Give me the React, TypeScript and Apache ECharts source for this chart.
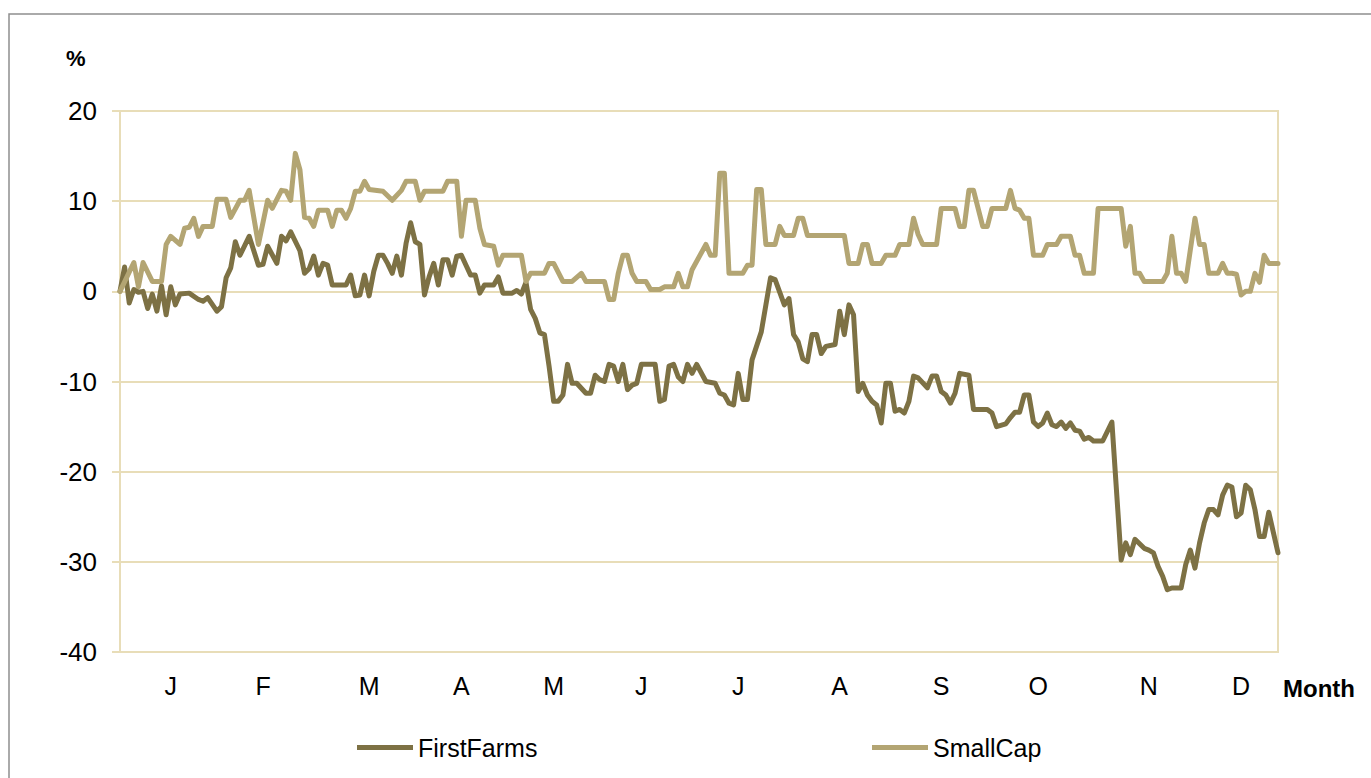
import React, { useEffect, useRef } from "react";
import * as echarts from "echarts";

// ---- data ----
const seriesNames = ["FirstFarms", "SmallCap"];
const dayCount = 252; // trading days, index 0..251
const monthLetters = ["J", "F", "M", "A", "M", "J", "J", "A", "S", "O", "N", "D"];
const monthLabelDays = [11, 31, 54, 74, 94, 113, 134, 156, 178, 199, 223, 243];
const yTicks = { min: -40, max: 20, step: 10 };

const firstFarmsDays = [
  0, 1, 2, 3, 4, 5, 6, 7, 8, 9, 10, 11, 12, 13, 15, 17, 18, 19, 21, 22, 23, 24, 25, 26, 28, 30, 31, 32, 34, 35, 36, 37, 39, 40,
  41, 42, 43, 44, 45, 46, 49, 50, 51, 52, 53, 54, 55, 56, 57, 58, 59, 60, 61, 62, 63, 64, 65, 66, 67, 68, 69, 70, 71, 72, 73,
  74, 75, 76, 77, 78, 79, 81, 82, 83, 85, 86, 87, 88, 89, 90, 91, 92, 93, 94, 95, 96, 97, 98, 99, 101, 102, 103, 104, 105,
  106, 107, 108, 109, 110, 111, 112, 113, 116, 117, 118, 119, 120, 121, 122, 123, 124, 125, 127, 129, 130, 131, 132, 133,
  134, 135, 136, 137, 139, 140, 141, 142, 144, 145, 146, 147, 148, 149, 150, 151, 152, 153, 155, 156, 157, 158, 159, 160,
  161, 162, 163, 164, 165, 166, 167, 168, 169, 170, 171, 172, 173, 175, 176, 177, 178, 179, 180, 181, 182, 184, 185, 188,
  189, 190, 192, 193, 194, 195, 196, 197, 198, 199, 200, 201, 202, 203, 204, 205, 206, 207, 208, 209, 210, 211, 213, 215,
  217, 218, 219, 220, 222, 223, 224, 225, 226, 227, 228, 230, 231, 232, 233, 234, 235, 236, 237, 238, 239, 240, 241, 242,
  243, 244, 245, 246, 247, 248, 249, 251,
];
const firstFarmsValues = [
  0, 2.7, -1.3, 0.2, -0.1, 0, -1.9, -0.3, -2.2, 0.6, -2.6, 0.5, -1.5, -0.3, -0.2, -0.9, -1.1, -0.7, -2.2, -1.7, 1.5, 2.6, 5.5,
  4.0, 6.1, 2.9, 3.0, 5.0, 3.1, 6.1, 5.6, 6.6, 4.5, 2.0,
  2.5, 3.9, 1.8, 3.1, 2.9, 0.7, 0.7, 1.8, -0.5, -0.4, 1.8, -0.5, 2.2, 4.0, 4.0, 3.1, 2.0, 3.9, 1.8, 5.3, 7.6, 5.5, 5.2, -0.4,
  1.6, 3.1, 0.7, 3.5, 3.5, 1.8, 3.9,
  4.0, 2.9, 1.8, 1.8, -0.2, 0.7, 0.7, 1.6, -0.2, -0.2, 0.1, -0.3, 1.0, -2.0, -3.0, -4.6, -4.8, -8.3, -12.2, -12.2, -11.5,
  -8.1, -10.2, -10.2, -11.3, -11.3, -9.3, -9.8, -10.0,
  -8.1, -8.3, -10.0, -8.1, -10.9, -10.4, -10.2, -8.1, -8.1, -12.2, -12.0, -8.3, -8.1, -9.5, -10.0, -8.1, -9.1, -8.1, -10.0,
  -10.2, -11.3, -11.5, -12.4, -12.6,
  -9.1, -12.0, -12.0, -7.6, -4.5, -1.5, 1.5, 1.3, -1.5, -0.8, -4.8, -5.6, -7.5, -7.8, -4.8, -4.8, -6.9, -6.1, -5.9, -2.2,
  -4.8, -1.5, -2.6, -11.1,
  -10.2, -11.5, -12.2, -12.6, -14.6, -10.2, -10.2, -13.3, -13.1, -13.5, -12.2, -9.4, -9.6, -10.7, -9.4, -9.4, -11.1, -11.5,
  -12.4, -11.3, -9.1, -9.3, -13.1, -13.1,
  -13.5, -15.0, -14.7, -14.0, -13.4, -13.4, -11.5, -11.5, -14.5, -15.0, -14.6, -13.5, -14.8, -15.0, -14.5, -15.2, -14.6,
  -15.4, -15.5, -16.4, -16.2, -16.6, -16.6, -14.5,
  -29.8, -27.9, -29.2, -27.5, -28.5, -28.7, -29.0, -30.5, -31.6, -33.1, -32.9, -32.9, -30.3, -28.7, -30.7, -27.9, -25.7,
  -24.2, -24.2, -24.8, -22.6, -21.5, -21.7, -25.0,
  -24.6, -21.5, -22.0, -24.2, -27.2, -27.2, -24.5, -29.0,
];

const smallCapDays = [
  0, 3, 4, 5, 7, 9, 10, 11, 13, 14, 15, 16, 17, 18, 20, 21, 23, 24, 26, 27, 28, 30, 32, 33, 35, 36, 37, 38, 39, 40, 41, 42,
  43, 45, 46, 47, 48, 49, 50, 51, 52, 53, 54, 57, 59, 61, 62, 64, 65, 66, 70, 71, 73, 74, 75, 77, 78, 79, 81, 82, 83, 87,
  88, 89, 92, 93, 94, 96, 98, 100, 101, 105, 106, 107, 108, 109, 110, 111, 112, 114, 115, 117, 118, 120, 121, 122, 123,
  124, 127, 128, 129, 130, 131, 132, 135, 136, 137, 138, 139, 140, 142, 143, 144, 146, 147, 148, 149, 157, 158, 160, 161,
  162, 163, 165, 166, 168, 169, 171, 172, 173, 174, 177, 178, 181, 182, 183, 184, 185, 187, 188, 189, 192, 193, 194, 195,
  196, 197, 198, 200, 201, 203, 204, 206, 207, 208, 209, 211, 212, 217, 218, 219, 220, 221, 222, 226, 227, 228, 229, 230,
  231, 233, 234, 235, 236, 238, 239, 240, 241, 242, 243, 244, 245, 246, 247, 248, 249, 251,
];
const smallCapValues = [
  0, 3.2, 0.5, 3.2, 1.1, 1.1, 5.2, 6.1, 5.2, 7.0, 7.1, 8.1, 6.1, 7.2, 7.2, 10.2, 10.2, 8.2, 10.1, 10.1, 11.2, 5.2, 10.1, 9.2,
  11.2, 11.1, 10.1, 15.3, 13.5, 8.2, 8.1, 7.2,
  9.0, 9.0, 7.2, 9.0, 9.0, 8.1, 9.2, 11.1, 11.1, 12.2, 11.3, 11.1, 10.1, 11.2, 12.2, 12.2, 10.1, 11.1, 11.1, 12.2, 12.2, 6.1,
  10.1, 10.1, 7.0, 5.2, 5.0, 2.9, 4.0, 4.0,
  1.1, 2.0, 2.0, 3.1, 3.1, 1.1, 1.1, 2.0, 1.1, 1.1, -0.9, -0.9, 2.0, 4.0, 4.0, 2.0, 1.1, 1.1, 0.2, 0.2, 0.5, 0.5, 2.0, 0.5,
  0.5,
  2.4, 5.2, 4.0, 4.0, 13.1, 13.1, 2.0, 2.0, 2.9, 2.9, 11.3, 11.3, 5.2, 5.2, 7.2, 6.2, 6.2, 8.1, 8.1, 6.2, 6.2, 3.1, 3.1, 5.2,
  5.2, 3.1, 3.1, 4.0, 4.0, 5.2, 5.2, 8.1, 6.3, 5.2, 5.2, 9.2, 9.2, 7.2, 7.2, 11.2, 11.2, 7.2, 7.2, 9.2, 9.2, 11.2, 9.2, 9.0,
  8.1, 8.1, 4.0, 4.0, 5.2, 5.2, 6.1, 6.1, 4.0, 4.0, 2.0, 2.0, 9.2, 9.2, 5.0, 7.2, 2.0, 2.0, 1.1, 1.1, 2.0, 6.1, 2.0, 2.0,
  1.1, 8.1, 5.2, 5.2, 2.0, 2.0, 3.1, 2.0, 2.0, 1.9, -0.4, 0.0, 0.0, 2.0, 1.0, 4.0, 3.1, 3.1,
];

// ---- styles ----
const COLOR_FF = "#7d7144";
const COLOR_SC = "#b3a573";
const GRID_COLOR = "#e8ddb8";
const FONT = "'Liberation Sans', Arial, sans-serif";

const xCategories: string[] = Array.from({ length: dayCount }, (_, i) => {
  const k = monthLabelDays.indexOf(i);
  return k >= 0 ? monthLetters[k] : "";
});

const zip = (days: number[], vals: number[]) => days.map((d, i) => [d, vals[i]]);

export default function App() {
  const ref = useRef<HTMLDivElement>(null);
  useEffect(() => {
    if (!ref.current) return;
    const chart = echarts.init(ref.current, undefined, { renderer: "svg" });
    const legendText = { color: "#000", fontSize: 25, fontFamily: FONT };
    chart.setOption({
      animation: false,
      backgroundColor: "#ffffff",
      textStyle: { fontFamily: FONT },
      grid: {
        left: 120,
        right: 93,
        top: 111,
        bottom: 126,
        show: true,
        borderColor: GRID_COLOR,
        borderWidth: 2,
      },
      xAxis: {
        type: "category",
        boundaryGap: false,
        data: xCategories,
        axisLine: { show: true, lineStyle: { color: GRID_COLOR, width: 2 } },
        axisTick: { show: false },
        splitLine: { show: false },
        axisLabel: {
          interval: (_i: number, v: string) => v !== "",
          color: "#000",
          fontSize: 25,
          fontFamily: FONT,
          margin: 21,
        },
      },
      yAxis: {
        type: "value",
        min: yTicks.min,
        max: yTicks.max,
        interval: yTicks.step,
        axisLine: { show: true, lineStyle: { color: GRID_COLOR, width: 2 } },
        axisTick: { show: true, length: 8, lineStyle: { color: GRID_COLOR, width: 2 } },
        splitLine: { show: true, lineStyle: { color: GRID_COLOR, width: 2 } },
        axisLabel: { color: "#000", fontSize: 26, fontFamily: FONT, margin: 23 },
      },
      legend: [
        {
          data: [seriesNames[0]],
          left: 357,
          top: 735,
          padding: 0,
          icon: "rect",
          itemWidth: 56,
          itemHeight: 5,
          textStyle: legendText,
        },
        {
          data: [seriesNames[1]],
          left: 872,
          top: 735,
          padding: 0,
          icon: "rect",
          itemWidth: 56,
          itemHeight: 5,
          textStyle: legendText,
        },
      ],
      graphic: [
        {
          type: "rect",
          shape: { x: 9, y: 14, width: 1420, height: 820 },
          style: { fill: "none", stroke: "#8e8e8e", lineWidth: 1.5 },
          silent: true,
        },
        {
          type: "text",
          left: 66,
          top: 47,
          style: { text: "%", fill: "#000", font: `bold 22px ${FONT}` },
        },
        {
          type: "text",
          left: 1283,
          top: 676,
          style: { text: "Month", fill: "#000", font: `bold 24px ${FONT}` },
        },
      ],
      series: [
        {
          name: seriesNames[0],
          type: "line",
          data: zip(firstFarmsDays, firstFarmsValues),
          showSymbol: false,
          symbol: "none",
          color: COLOR_FF,
          lineStyle: { color: COLOR_FF, width: 5, join: "round", cap: "round" },
          z: 2,
        },
        {
          name: seriesNames[1],
          type: "line",
          data: zip(smallCapDays, smallCapValues),
          showSymbol: false,
          symbol: "none",
          color: COLOR_SC,
          lineStyle: { color: COLOR_SC, width: 5, join: "round", cap: "round" },
          z: 3,
        },
      ],
    });
    return () => chart.dispose();
  }, []);
  return <div ref={ref} style={{ position: "fixed", left: 0, top: 0, width: 1371, height: 778 }} />;
}
